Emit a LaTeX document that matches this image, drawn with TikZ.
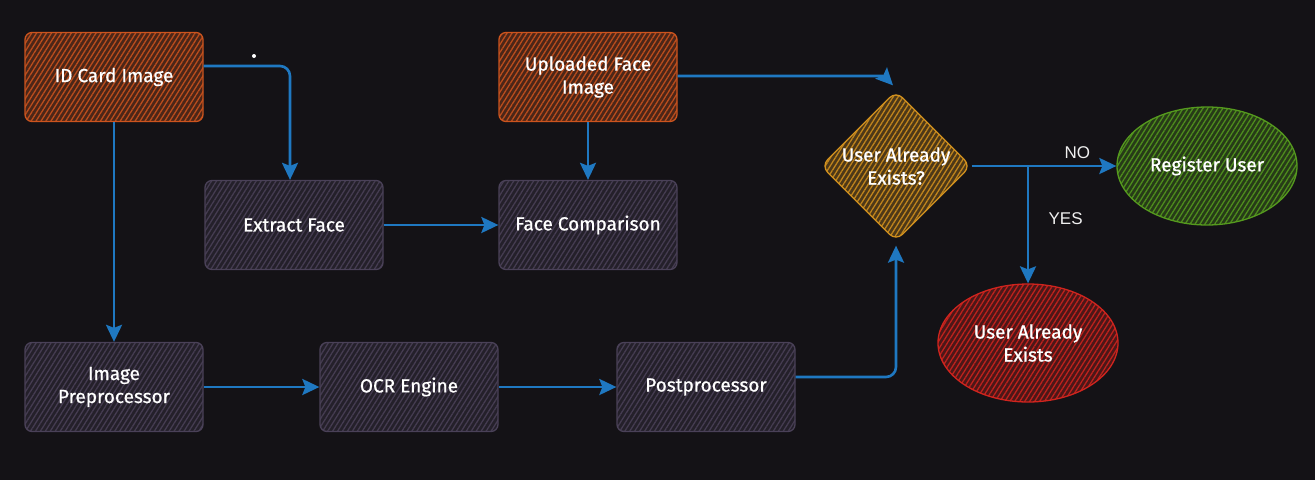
\documentclass[tikz,border=0pt]{standalone}
\usepackage{fontspec}
\setmainfont{Fira Sans}
\newfontfamily\labfont{Fira Sans}[FakeBold=0.8]
\newfontfamily\lblfont{Liberation Sans}
\usetikzlibrary{shapes.geometric,patterns.meta,arrows.meta}
\definecolor{bg}{HTML}{141216}
\definecolor{corange}{HTML}{CC541E}
\definecolor{cdark}{HTML}{4A4158}
\definecolor{camber}{HTML}{D2911E}
\definecolor{cgreen}{HTML}{559A1E}
\definecolor{cred}{HTML}{D0241E}
\definecolor{cblue}{HTML}{1F78C1}
\tikzset{
  hatched/.style={draw=#1, line width=1.3pt, preaction={fill=#1!30!bg},
    pattern={Lines[angle=58,distance=4.2pt,line width=1.3pt]}, pattern color=#1!90!bg},
  labeltext/.style={text=white, font=\labfont\fontsize{19}{23}\selectfont, align=center},
  box/.style={rectangle, rounded corners=7pt, minimum width=178pt, minimum height=89pt, inner sep=0pt, labeltext},
  inbox/.style={box, hatched=corange},
  procbox/.style={box, hatched=cdark},
  decision/.style={diamond, rounded corners=9pt, minimum width=150pt, minimum height=150pt, inner sep=0pt, labeltext, hatched=camber},
  endnode/.style={ellipse, minimum width=180pt, minimum height=118pt, inner sep=0pt, labeltext},
  flow/.style={draw=cblue, line width=2.6pt, -{Stealth[length=17pt,width=16pt,inset=3pt]}},
  edgelabel/.style={text=white!88!gray, font=\lblfont\fontsize{17}{20}\selectfont},
}
\begin{document}
\begin{tikzpicture}[x=1pt,y=-1pt]
\fill[bg] (0,0) rectangle (1315,480);
\useasboundingbox (0,0) rectangle (1315,480);

\node[inbox] (idc) at (114,77) {ID Card Image};
\node[procbox] (ef) at (294,225) {Extract Face};
\node[inbox] (up) at (588,77) {Uploaded Face\\Image};
\node[procbox] (fc) at (588,225) {Face Comparison};
\node[procbox] (ip) at (114,387) {Image\\Preprocessor};
\node[procbox] (ocr) at (409,387) {OCR Engine};
\node[procbox] (pp) at (706,387) {Postprocessor};
\node[decision] (dia) at (896,166) {User Already\\Exists?};
\node[endnode, hatched=cgreen] (reg) at (1207,166) {Register User};
\node[endnode, hatched=cred] (uae) at (1028,343) {User Already\\Exists};

\fill[white] (254,56) circle (2pt);

\draw[flow, rounded corners=10pt] ([yshift=11pt]idc.east) -| ([xshift=-4pt]ef.north);
\draw[flow] (idc.south) -- (ip.north);
\draw[flow] (ef.east) -- (fc.west);
\draw[flow] (up.south) -- (fc.north);
\draw[flow] ([yshift=1pt]up.east) -- (868,76) .. controls (884,76) .. ([xshift=-3pt,yshift=5pt]dia.north);
\draw[flow] (ip.east) -- (ocr.west);
\draw[flow] (ocr.east) -- (pp.west);
\draw[flow, rounded corners=10pt] ([yshift=10pt]pp.east) -| ([yshift=-4pt]dia.south);
\draw[flow] (dia.east) -- (reg.west) node[edgelabel, pos=0.73, above=3pt] (no) {NO};
\coordinate (br) at (dia.east -| uae.north);
\draw[flow] (br) -- (uae.north) node[edgelabel, pos=0.45, right=16pt] (yes) {YES};
\end{tikzpicture}
\end{document}
